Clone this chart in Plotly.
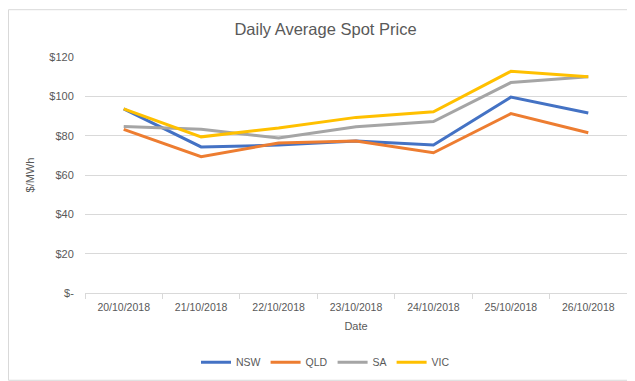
import plotly.graph_objects as go

dates = ["20/10/2018", "21/10/2018", "22/10/2018", "23/10/2018", "24/10/2018", "25/10/2018", "26/10/2018"]
nsw = [93.6, 74.3, 75.2, 77.3, 75.3, 99.6, 91.5]
qld = [83.2, 69.3, 76.3, 77.3, 71.3, 91.2, 81.5]
sa = [84.7, 83.2, 78.8, 84.5, 87.2, 107.0, 110.0]
vic = [93.6, 79.4, 83.9, 89.3, 92.1, 112.7, 110.0]

y_tickvals = [0, 20, 40, 60, 80, 100, 120]
y_ticktext = ["$-", "$20", "$40", "$60", "$80", "$100", "$120"]

series = [("NSW", nsw, "#4472C4"), ("QLD", qld, "#ED7D31"), ("SA", sa, "#A5A5A5"), ("VIC", vic, "#FFC000")]

fig = go.Figure()
for name, vals, col in series:
    fig.add_trace(go.Scatter(x=dates, y=vals, name=name, mode="lines",
                             line=dict(color=col, width=3)))

W, H = 635, 381
L, R, T, B = 77, 16, 49, 90
pw, ph = W - L - R, H - T - B

fig.update_layout(
    width=W, height=H,
    margin=dict(l=L, r=R, t=T, b=B),
    paper_bgcolor="white", plot_bgcolor="white",
    font=dict(family="Liberation Sans, Arial, sans-serif", size=11, color="#595959"),
    title=dict(text="Daily Average Spot Price", x=0.5, xanchor="center", y=1 - 21 / H, yanchor="middle",
               font=dict(size=16.5, color="#595959")),
    xaxis=dict(type="category", range=[-0.5, 6.5], tickson="boundaries", ticks="outside", ticklen=5,
               tickcolor="#D9D9D9", ticklabelstandoff=4,
               showline=True, linecolor="#D9D9D9", linewidth=1, showgrid=False,
               tickfont=dict(size=10.5),
               title=dict(text="Date", font=dict(size=11), standoff=10)),
    yaxis=dict(range=[0, 120], tickvals=y_tickvals, ticktext=y_ticktext, showgrid=True,
               gridcolor="#D9D9D9", gridwidth=1, zeroline=False, ticks="outside", ticklen=8,
               tickcolor="rgba(0,0,0,0)", tickfont=dict(size=11),
               title=dict(text="$/MWh", font=dict(size=11), standoff=12)),
    legend=dict(orientation="h", x=(W / 2 - L) / pw, xanchor="center", y=-(362 - T - ph) / ph, yanchor="middle",
                font=dict(size=10.5), itemwidth=30),
    shapes=[dict(type="rect", xref="paper", yref="paper",
                 x0=-(L - 0.5) / pw, x1=(W - 0.5 - L) / pw,
                 y0=-(B - 0.5) / ph, y1=1 + (T - 0.5) / ph,
                 line=dict(color="#D9D9D9", width=1), fillcolor="rgba(0,0,0,0)", layer="below")],
)

fig.write_html("out.html")
